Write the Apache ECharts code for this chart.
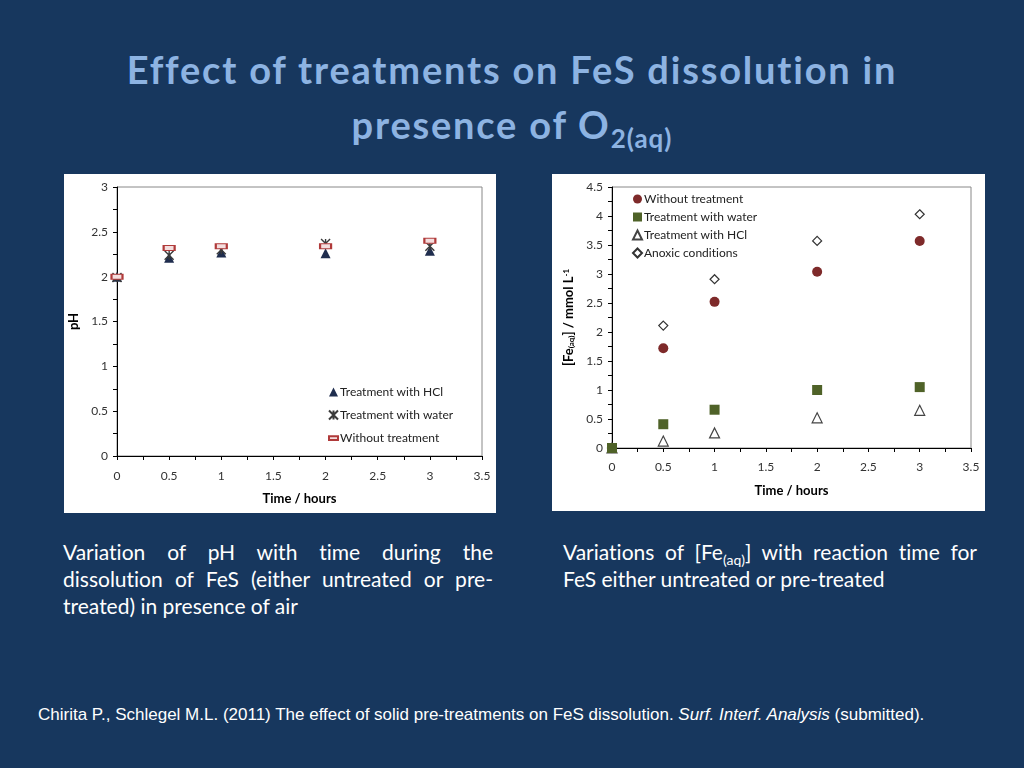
<!DOCTYPE html>
<html>
<head>
<meta charset="utf-8">
<script src="https://cdn.jsdelivr.net/npm/echarts@6/dist/echarts.min.js"></script>
<style>
  html, body { margin:0; padding:0; }
  body { width:1024px; height:768px; background:#17375e; position:relative; overflow:hidden; font-family:Lato, "Open Sans", sans-serif; font-variant-ligatures:none; }
  #title { position:absolute; left:0; top:42px; width:1024px; text-align:center; color:#8db3e2; font-weight:bold; font-size:38px; letter-spacing:1.8px; line-height:55px; font-family:Lato, sans-serif; }
  #title sub { font-size:26px; vertical-align:-9px; line-height:0; letter-spacing:1px; }
  .box { position:absolute; background:#fff; }
  #c1 { left:64px; top:174px; width:432px; height:339px; }
  #c2 { left:552px; top:174px; width:433px; height:337px; }
  .cap { position:absolute; top:538px; color:#fff; font-size:21px; line-height:27px; font-family:Lato, sans-serif; }
  .cap div { white-space:nowrap; }
  .cap .j { text-align:justify; text-align-last:justify; white-space:normal; }
  #cap1 { left:63px; width:430px; }
  #cap2 { left:563px; width:414px; }
  .cap sub { font-size:14px; line-height:0; vertical-align:-5px; }
  #cite { position:absolute; left:38px; top:705px; color:#fff; font-size:17px; font-family:"Liberation Sans", Arial, sans-serif; white-space:nowrap; }
</style>
</head>
<body>
<div id="title">Effect of treatments on FeS dissolution in<br>presence of O<sub>2(aq)</sub></div>
<div id="c1" class="box"></div>
<div id="c2" class="box"></div>
<div id="cap1" class="cap">
  <div class="j">Variation of pH with time during the</div>
  <div class="j">dissolution of FeS (either untreated or pre-</div>
  <div>treated) in presence of air</div>
</div>
<div id="cap2" class="cap">
  <div class="j">Variations of [Fe<sub>(aq)</sub>] with reaction time for</div>
  <div>FeS either untreated or pre-treated</div>
</div>
<div id="cite">Chirita P., Schlegel M.L. (2011) The effect of solid pre-treatments on FeS dissolution. <i>Surf. Interf. Analysis</i> (submitted).</div>
<script>
// ---- data ----
const timeHours = [0, 0.5, 1, 2, 3];

// pH chart
const phHCl = [2.0, 2.21, 2.27, 2.26, 2.29];
const phWater = [1.99, 2.24, 2.30, 2.37, 2.34];
const phWithout = [2.0, 2.32, 2.34, 2.34, 2.40];

// Fe(aq) chart (mmol/L)
const feWithout = [0, 1.72, 2.52, 3.04, 3.57];
const feWater = [0, 0.41, 0.66, 1.0, 1.05];
const feHCl = [0, 0.12, 0.26, 0.52, 0.65];
const feAnoxic = [0, 2.11, 2.91, 3.57, 4.03];

const xTicks = [0, 0.5, 1, 1.5, 2, 2.5, 3, 3.5];

function pairs(ys) { return timeHours.map((t, i) => [t, ys[i]]); }

const FONT = 'Lato';
function xAxis(nameGap, margin) {
  return {
    type: 'value', min: 0, max: 3.5, interval: 0.5,
    name: 'Time / hours', nameLocation: 'middle', nameGap: nameGap,
    nameTextStyle: { fontFamily: FONT, fontWeight: 'bold', fontSize: 13, color: '#000' },
    axisLine: { show: true, lineStyle: { color: '#000', width: 1 } },
    axisTick: { show: true, length: 4, lineStyle: { color: '#000' } },
    minorTick: { show: true, splitNumber: 2, length: 4, lineStyle: { color: '#000' } },
    splitLine: { show: false },
    axisLabel: { fontFamily: FONT, fontSize: 12, color: '#333', margin: margin,
      formatter: v => String(v) }
  };
}
function yAxis(max, name, nameGap, rich) {
  return {
    type: 'value', min: 0, max: max, interval: 0.5,
    name: name, nameLocation: 'middle', nameGap: nameGap, nameRotate: 90,
    nameTextStyle: { fontFamily: FONT, fontWeight: 'bold', fontSize: 13, color: '#000', rich: rich },
    axisLine: { show: true, lineStyle: { color: '#000', width: 1 } },
    axisTick: { show: true, length: 4, lineStyle: { color: '#000' } },
    minorTick: { show: true, splitNumber: 2, length: 4, lineStyle: { color: '#000' } },
    splitLine: { show: false },
    axisLabel: { fontFamily: FONT, fontSize: 12, color: '#333', margin: 9 }
  };
}

const starPath = 'path://M0,0 L10,10 M10,0 L0,10 M5,0 L5,10';

// ---- chart 1: pH ----
const ch1 = echarts.init(document.getElementById('c1'));
ch1.setOption({
  animation: false,
  backgroundColor: '#fff',
  grid: { left: 53, right: 14, top: 13, bottom: 57, show: true, borderColor: '#888', borderWidth: 1, backgroundColor: '#fff', outerBoundsMode: 'none', containLabel: false },
  xAxis: xAxis(36, 14),
  yAxis: yAxis(3, 'pH', 32),
  legend: {
    orient: 'vertical', left: 259, top: 207, itemGap: 11, itemWidth: 9, itemHeight: 9,
    textStyle: { fontFamily: FONT, fontSize: 12, color: '#222', padding: [0, 0, 0, -3] },
    data: [
      { name: 'Treatment with HCl' },
      { name: 'Treatment with water' },
      { name: 'Without treatment', icon: 'path://M0,0 L12,0 L12,5 L0,5 Z' }
    ]
  },
  series: [
    { name: 'Treatment with HCl', type: 'scatter', data: pairs(phHCl), symbol: 'triangle', symbolSize: 10,
      itemStyle: { color: '#1f2d4e', opacity: 1 } },
    { name: 'Treatment with water', type: 'scatter', data: pairs(phWater), symbol: starPath, symbolSize: 9,
      itemStyle: { color: 'rgba(0,0,0,0)', borderColor: '#3a3a3a', borderWidth: 1.4, opacity: 1 } },
    { name: 'Without treatment', type: 'scatter', data: pairs(phWithout), symbol: 'rect', symbolSize: [11, 5],
      itemStyle: { color: '#f4dede', borderColor: '#b03a3a', borderWidth: 1.5, opacity: 1 } }
  ]
});

// ---- chart 2: Fe(aq) ----
const ch2 = echarts.init(document.getElementById('c2'));
ch2.setOption({
  animation: false,
  backgroundColor: '#fff',
  grid: { left: 60, right: 14, top: 13, bottom: 63, show: true, borderColor: '#888', borderWidth: 1, backgroundColor: '#fff', outerBoundsMode: 'none', containLabel: false },
  xAxis: xAxis(36, 13),
  yAxis: yAxis(4.5, '[Fe{sub|(aq)}] / mmol L{sup|-1}', 34, {
    sub: { fontSize: 8, fontWeight: 'bold', fontFamily: FONT, verticalAlign: 'bottom', padding: [5, 0, 0, 0] },
    sup: { fontSize: 8, fontWeight: 'bold', fontFamily: FONT, verticalAlign: 'top', padding: [0, 0, 5, 0] }
  }),
  legend: {
    orient: 'vertical', left: 75, top: 14, itemGap: 6, itemWidth: 9, itemHeight: 9,
    textStyle: { fontFamily: FONT, fontSize: 12, color: '#222', padding: [0, 0, 0, -3] },
    data: ['Without treatment', 'Treatment with water', 'Treatment with HCl', 'Anoxic conditions']
  },
  series: [
    { name: 'Anoxic conditions', type: 'scatter', data: pairs(feAnoxic), symbol: 'diamond', symbolSize: 9,
      itemStyle: { color: '#fff', borderColor: '#333', borderWidth: 1.2, opacity: 1 } },
    { name: 'Treatment with HCl', type: 'scatter', data: pairs(feHCl), symbol: 'triangle', symbolSize: 10,
      itemStyle: { color: '#fff', borderColor: '#444', borderWidth: 1.2, opacity: 1 } },
    { name: 'Without treatment', type: 'scatter', data: pairs(feWithout), symbol: 'circle', symbolSize: 10,
      itemStyle: { color: '#7e2a2a', opacity: 1 } },
    { name: 'Treatment with water', type: 'scatter', data: pairs(feWater), symbol: 'rect', symbolSize: 10,
      itemStyle: { color: '#4f6228', opacity: 1 } }
  ]
});
</script>
</body>
</html>
